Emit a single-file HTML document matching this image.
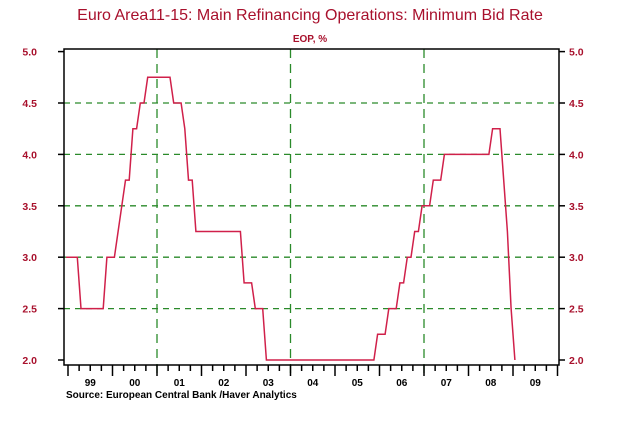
<!DOCTYPE html>
<html><head><meta charset="utf-8"><style>
body{margin:0;background:#fff;}
svg text{font-family:"Liberation Sans",Arial,sans-serif;font-weight:bold;}
</style></head><body>
<svg width="620" height="426" viewBox="0 0 620 426">
<text x="310" y="20" text-anchor="middle" font-size="16" fill="#a8102c" style="font-weight:normal">Euro Area11-15: Main Refinancing Operations: Minimum Bid Rate</text>
<text x="310" y="42" text-anchor="middle" font-size="10" fill="#a8102c">EOP, %</text>
<g id="grid"></g>
<rect x="64" y="49" width="495" height="316" fill="none" stroke="#000" stroke-width="1.5"/>
<g id="axes"></g>
<polyline id="line" fill="none" stroke="#d0204a" stroke-width="1.5"/>
<text x="66" y="398" font-size="10" fill="#000">Source:  European Central Bank /Haver Analytics</text>
</svg>
<script>
const yTicks=[2.0,2.5,3.0,3.5,4.0,4.5,5.0];
const yearLabels=["99","00","01","02","03","04","05","06","07","08","09"];
const vLineYears=[2001,2004,2007];
const startYear=1998;const startMonth=11;
const rates=[3.0,
3.0,3.0,3.0,2.5,2.5,2.5,2.5,2.5,2.5,2.5,3.0,3.0,
3.0,3.25,3.5,3.75,3.75,4.25,4.25,4.5,4.5,4.75,4.75,4.75,
4.75,4.75,4.75,4.75,4.5,4.5,4.5,4.25,3.75,3.75,3.25,3.25,
3.25,3.25,3.25,3.25,3.25,3.25,3.25,3.25,3.25,3.25,3.25,2.75,
2.75,2.75,2.5,2.5,2.5,2.0,2.0,2.0,2.0,2.0,2.0,2.0,
2.0,2.0,2.0,2.0,2.0,2.0,2.0,2.0,2.0,2.0,2.0,2.0,
2.0,2.0,2.0,2.0,2.0,2.0,2.0,2.0,2.0,2.0,2.0,2.25,
2.25,2.25,2.5,2.5,2.5,2.75,2.75,3.0,3.0,3.25,3.25,3.5,
3.5,3.5,3.75,3.75,3.75,4.0,4.0,4.0,4.0,4.0,4.0,4.0,
4.0,4.0,4.0,4.0,4.0,4.0,4.25,4.25,4.25,3.75,3.25,2.5,
2.0];
const NS="http://www.w3.org/2000/svg";
function xs(t){return 68+(t-1999)*44.5;}
function ys(v){return 360-(v-2)*102.8;}
function mk(tag,attrs,parent){const e=document.createElementNS(NS,tag);for(const k in attrs)e.setAttribute(k,attrs[k]);parent.appendChild(e);return e;}
const grid=document.getElementById('grid'),axes=document.getElementById('axes');
yTicks.forEach(v=>{
 const y=ys(v);
 if(v>2&&v<5){const l=mk('line',{x1:64,x2:559,y1:y,y2:y,stroke:'#2a8a2a','stroke-width':1.3,'stroke-dasharray':'6,5'},grid);
 
 }
 mk('line',{x1:58,x2:64,y1:y,y2:y,stroke:'#000','stroke-width':1.5},axes);
 mk('line',{x1:559,x2:565,y1:y,y2:y,stroke:'#000','stroke-width':1.5},axes);
 const t1=mk('text',{x:37,y:y+4,'text-anchor':'end','font-size':10.5,fill:'#a8102c'},axes);t1.textContent=v.toFixed(1);
 
 
 const t2=mk('text',{x:569,y:y+4,'font-size':10.5,fill:'#a8102c'},axes);t2.textContent=v.toFixed(1);
 
 
});
vLineYears.forEach(yr=>{const x=xs(yr);const l=mk('line',{x1:x,x2:x,y1:49,y2:374,stroke:'#2a8a2a','stroke-width':1.3,'stroke-dasharray':'9,6'},grid);
 
 });
yearLabels.forEach((lab,i)=>{
 const yr=1999+i;
 for(let q=0;q<4;q++){const x=xs(yr+q/4);mk('line',{x1:x,x2:x,y1:365,y2:q==0?376:371,stroke:'#000','stroke-width':1.5},axes);}
 const t=mk('text',{x:xs(yr+0.5),y:386,'text-anchor':'middle','font-size':10,fill:'#000'},axes);t.textContent=lab;
 
 
});
mk('line',{x1:xs(2010),x2:xs(2010),y1:365,y2:376,stroke:'#000','stroke-width':1.5},axes);
const pts=rates.map((r,i)=>{const t=startYear+(startMonth+i+0.5)/12;return xs(t).toFixed(1)+','+ys(r).toFixed(1);});
document.getElementById('line').setAttribute('points',pts.join(' '));
</script>
</body></html>
